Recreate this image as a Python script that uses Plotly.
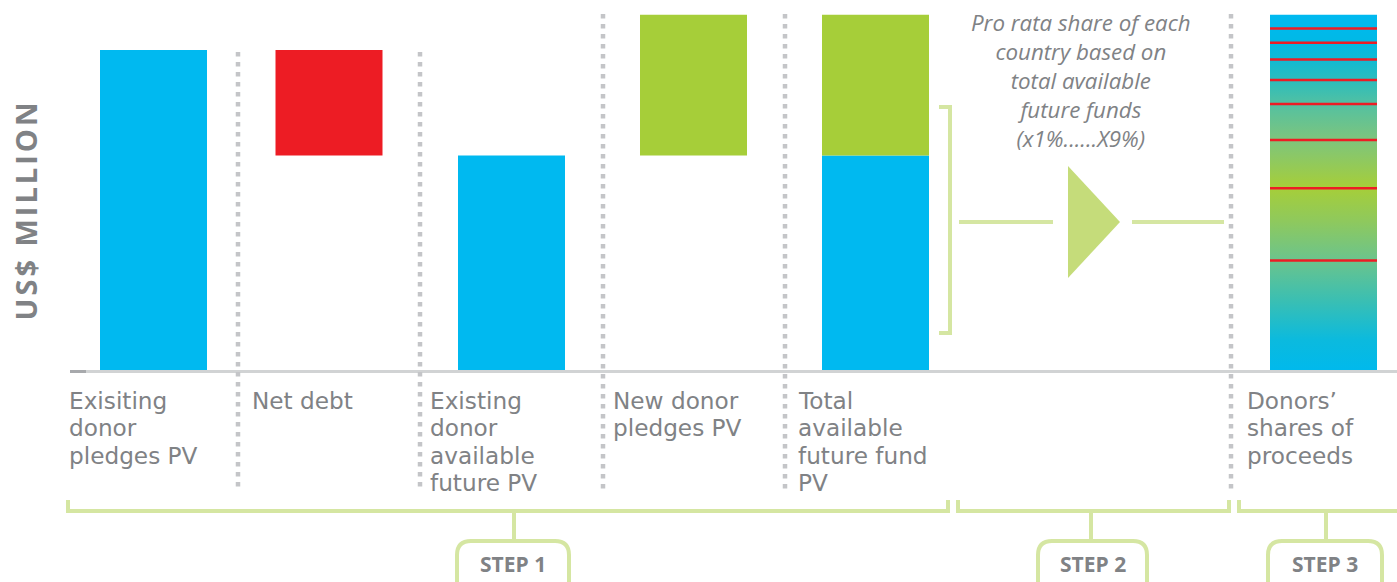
import plotly.graph_objects as go

# ---------------- data (US$ million, illustrative scale) ----------------
existing_pledges = 100
net_debt = 33
new_donor_pledges = 44
donor_shares = [34.2, 22.6, 15.1, 11.2, 7.5, 6.4, 5.3, 4.4, 4.3]   # bottom -> top, 9 donors

categories = [
    "Exisiting<br>donor<br>pledges PV",
    "Net debt",
    "Existing<br>donor<br>available<br>future PV",
    "New donor<br>pledges PV",
    "Total<br>available<br>future fund<br>PV",
    "Donors’<br>shares of<br>proceeds",
]
step_labels = ["STEP 1", "STEP 2", "STEP 3"]
y_title = "US$ MILLION"
note_text = "Pro rata share of each<br>country based on<br>total available<br>future funds<br>(x1%......X9%)"

available = existing_pledges - net_debt
total = available + new_donor_pledges

# ---------------- layout helpers ----------------
W, H = 1397, 582
BASE_PX = 370          # pixel row of zero
PX_PER_UNIT = 3.2
centers = [153.5, 329, 511.5, 693.5, 875.5, 1323.5]
label_left = [67, 250, 428, 611, 796, 1245]
bar_w = 107
sep_x = [238, 420, 603, 785, 1231]
sep_top = [52, 52, 14, 14, 14]

CYAN = "#00b9f0"
RED = "#ed1c24"
GREEN = "#a6ce39"
LGREEN = "#d5e6a2"
TRI = "#c5dc7a"
GRAY = "#808285"
DOT = "#c4c5c8"


def py(px):  # pixel row -> paper y
    return 1 - px / H


fig = go.Figure()

# bars
fig.add_trace(go.Bar(x=[centers[0], centers[2], centers[4]],
                     y=[existing_pledges, available, available], base=[0, 0, 0],
                     width=bar_w, marker=dict(color=CYAN, line_width=0), hoverinfo="skip"))
fig.add_trace(go.Bar(x=[centers[1]], y=[net_debt], base=[available],
                     width=bar_w, marker=dict(color=RED, line_width=0), hoverinfo="skip"))
fig.add_trace(go.Bar(x=[centers[3], centers[4]], y=[new_donor_pledges, new_donor_pledges],
                     base=[available, available], width=bar_w,
                     marker=dict(color=GREEN, line_width=0), hoverinfo="skip"))

# gradient bar of donors' shares
gx0, gx1 = centers[5] - bar_w / 2, centers[5] + bar_w / 2
share_total = sum(donor_shares)
fig.add_trace(go.Scatter(
    x=[gx0, gx1, gx1, gx0, gx0], y=[0, 0, share_total, share_total, 0],
    mode="lines", line=dict(width=0), fill="toself",
    fillgradient=dict(type="vertical", start=0, stop=share_total, colorscale=[
        [0.0, "#00b9ec"], [0.084, "#0bbade"], [0.197, "#3bbfb2"], [0.315, "#6dc48a"],
        [0.421, "#8fc95c"], [0.514, "#a6ce39"], [0.646, "#7ec57c"], [0.744, "#55c1a0"],
        [0.815, "#2cbdbc"], [0.871, "#12bad2"], [0.927, "#00b9e6"], [1.0, "#00b9f0"]]),
    hoverinfo="skip"))

# red boundary lines between donor shares
rx, ry, acc = [], [], 0
for s in donor_shares[:-1]:
    acc += s
    rx += [gx0, gx1, None]
    ry += [acc, acc, None]
fig.add_trace(go.Scatter(x=rx, y=ry, mode="lines", line=dict(color=RED, width=2.5),
                         hoverinfo="skip"))

shapes = []
# baseline
shapes.append(dict(type="line", xref="x", yref="paper", x0=86, x1=W, y0=py(371.5), y1=py(371.5),
                   line=dict(color="#d1d3d4", width=3), layer="below"))
shapes.append(dict(type="line", xref="x", yref="paper", x0=70, x1=86, y0=py(371.5), y1=py(371.5),
                   line=dict(color="#a7a9ac", width=3), layer="below"))
# dotted separators
for sx, st in zip(sep_x, sep_top):
    shapes.append(dict(type="line", xref="x", yref="paper", x0=sx, x1=sx, y0=py(st), y1=py(492),
                       line=dict(color=DOT, width=4.5, dash="4.5px,5.5px"), layer="below"))


def path(pts, close=False):
    s = "M " + " L ".join(f"{x},{py(y)}" for x, y in pts)
    return s + (" Z" if close else "")


# right bracket next to total bar
shapes.append(dict(type="path", xref="x", yref="paper",
                   path=path([(939, 107), (950, 107), (950, 333), (939, 333)]),
                   line=dict(color=LGREEN, width=4)))
# arrow
shapes.append(dict(type="line", xref="x", yref="paper", x0=959, x1=1053, y0=py(222), y1=py(222),
                   line=dict(color=LGREEN, width=4)))
shapes.append(dict(type="line", xref="x", yref="paper", x0=1132, x1=1224, y0=py(222), y1=py(222),
                   line=dict(color=LGREEN, width=4)))
shapes.append(dict(type="path", xref="x", yref="paper",
                   path=path([(1068, 166), (1120, 222), (1068, 278)], close=True),
                   fillcolor=TRI, line=dict(width=0)))

# bottom brackets
for pts in ([(68, 500), (68, 511), (948, 511), (948, 500)],
            [(958, 500), (958, 511), (1229, 511), (1229, 500)],
            [(1239, 500), (1239, 511), (1400, 511)]):
    shapes.append(dict(type="path", xref="x", yref="paper", path=path(pts),
                       line=dict(color=LGREEN, width=4)))

# step stems + rounded boxes
steps = [(514, 457, 569), (1091, 1038, 1147), (1326, 1268, 1382)]
r = 14
top = 541
for stem, bx0, bx1 in steps:
    shapes.append(dict(type="line", xref="x", yref="paper", x0=stem, x1=stem, y0=py(511), y1=py(top),
                       line=dict(color=LGREEN, width=4)))
    p = (f"M {bx0},{py(600)} L {bx0},{py(top + r)} Q {bx0},{py(top)} {bx0 + r},{py(top)} "
         f"L {bx1 - r},{py(top)} Q {bx1},{py(top)} {bx1},{py(top + r)} L {bx1},{py(600)}")
    shapes.append(dict(type="path", xref="x", yref="paper", path=p,
                       line=dict(color=LGREEN, width=4), fillcolor="white"))

annotations = []
# y title (index 0)
annotations.append(dict(text=y_title, xref="x", yref="paper", x=25, y=py(210), textangle=-90,
                        showarrow=False, xanchor="center", yanchor="middle",
                        font=dict(family="Open Sans", size=29, color=GRAY, weight="bold")))
# category labels, one line per annotation for tight leading
for left, lab in zip(label_left, categories):
    for i, line in enumerate(lab.split("<br>")):
        annotations.append(dict(text=line, xref="x", yref="paper", x=left, y=py(400 + 27.5 * i),
                                showarrow=False, xanchor="left", yanchor="middle",
                                font=dict(family="DejaVu Sans", size=23.2, color=GRAY)))
# italic note
annotations.append(dict(text=note_text, xref="x", yref="paper", x=1081, y=py(81),
                        showarrow=False, xanchor="center", yanchor="middle", align="center",
                        font=dict(family="Open Sans", size=22.3, color=GRAY, style="italic")))
# step labels
for (stem, bx0, bx1), lab in zip(steps, step_labels):
    annotations.append(dict(text=lab, xref="x", yref="paper", x=(bx0 + bx1) / 2, y=py(564),
                            showarrow=False, xanchor="center", yanchor="middle",
                            font=dict(family="Open Sans", size=21, color=GRAY, weight="bold")))

fig.update_layout(
    width=W, height=H, margin=dict(l=0, r=0, t=0, b=0, pad=0),
    paper_bgcolor="white", plot_bgcolor="white", showlegend=False, barmode="overlay",
    xaxis=dict(range=[0, W], visible=False, fixedrange=True),
    yaxis=dict(range=[(BASE_PX - H) / PX_PER_UNIT, BASE_PX / PX_PER_UNIT], visible=False, fixedrange=True),
    shapes=shapes, annotations=annotations,
)

post = ("document.body.style.margin='0';document.body.style.overflow='hidden';"
        "var t=document.querySelector('.annotation[data-index=\"0\"] .annotation-text');"
        "if(t){t.style.letterSpacing='3px';}")
fig.write_html("out.html", post_script=post, config={"displayModeBar": False})
